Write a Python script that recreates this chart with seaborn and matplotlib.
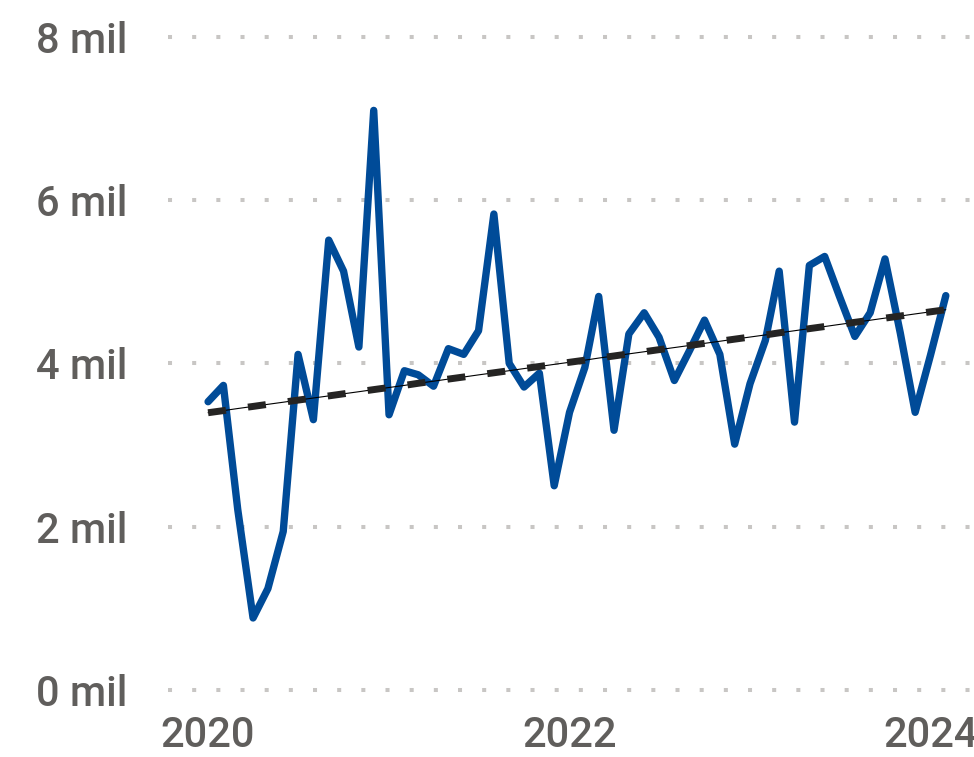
import numpy as np
import pandas as pd
import seaborn as sns
import matplotlib.pyplot as plt

# ================= DATOS =================
meses = pd.date_range("2020-01-01", periods=50, freq="MS")
valores = [3.53, 3.73, 2.21, 0.88, 1.24, 1.94, 4.11, 3.31, 5.51, 5.13,
           4.20, 7.10, 3.37, 3.91, 3.86, 3.72, 4.18, 4.11, 4.40, 5.83,
           4.00, 3.71, 3.88, 2.50, 3.40, 3.95, 4.82, 3.18, 4.36, 4.62,
           4.32, 3.79, 4.16, 4.53, 4.11, 3.01, 3.75, 4.28, 5.13, 3.28,
           5.20, 5.31, 4.82, 4.33, 4.62, 5.28, 4.37, 3.40, 4.10, 4.83]
y_ticks = [0, 2, 4, 6, 8]
y_labels = ["0 mil", "2 mil", "4 mil", "6 mil", "8 mil"]
x_ticks = ["2020-01-01", "2022-01-01", "2024-01-01"]
x_labels = ["2020", "2022", "2024"]

df = pd.DataFrame({"mes": meses, "valor": valores})

# tendencia lineal (regresion sobre indice del mes)
idx = np.arange(len(df))
pend, inter = np.polyfit(idx, df["valor"], 1)
df["tendencia"] = inter + pend * idx

# ================= GRAFICO =================
sns.set_style("white")
plt.rcParams["font.family"] = ["Roboto", "DejaVu Sans"]
plt.rcParams["font.weight"] = 500

GRIS = "#605E5C"
AZUL = "#004B98"

fig = plt.figure(figsize=(9.74, 7.57), dpi=100)
ax = fig.add_axes([0.1725, 0.078, 0.8275, 0.884])

sns.lineplot(data=df, x="mes", y="valor", ax=ax, color=AZUL, linewidth=5.3,
             solid_joinstyle="round", solid_capstyle="round", zorder=3)
sns.lineplot(data=df, x="mes", y="tendencia", ax=ax, color="black",
             linewidth=0.8, zorder=4)
sns.lineplot(data=df, x="mes", y="tendencia", ax=ax, color="#252423",
             linewidth=5, linestyle=(0, (2.6, 3.2)), zorder=4)

ax.set_ylim(-0.1, 8.1)
ax.set_xlim(pd.Timestamp("2019-10-12"), pd.Timestamp("2024-03-29"))
ax.set_yticks(y_ticks)
ax.set_yticklabels(y_labels)
ax.set_xticks(pd.to_datetime(x_ticks))
ax.set_xticklabels(x_labels)

ax.grid(axis="y", linestyle=(0, (1, 5)), linewidth=2.9, color="#C8C6C4")
ax.grid(axis="x", visible=False)
ax.tick_params(axis="y", length=0, pad=29, labelsize=30, labelcolor=GRIS)
ax.tick_params(axis="x", length=0, pad=12, labelsize=30, labelcolor=GRIS)
ax.set_xlabel("")
ax.set_ylabel("")
sns.despine(ax=ax, left=True, bottom=True)

plt.savefig("out.png", dpi=100)
